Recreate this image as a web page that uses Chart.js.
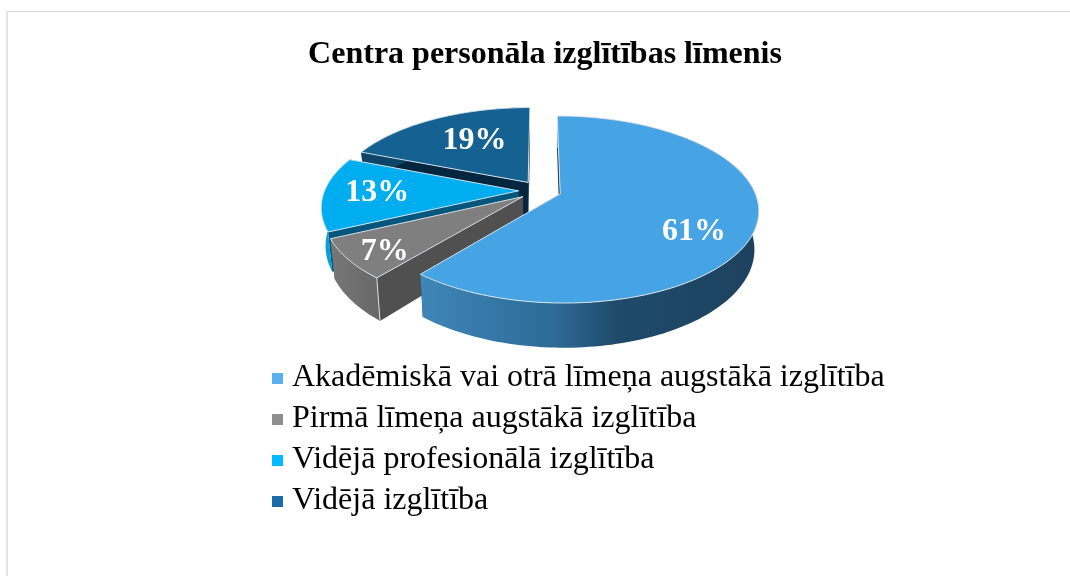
<!DOCTYPE html>
<html>
<head>
<meta charset="utf-8">
<style>
html,body{margin:0;padding:0;background:#fff;width:1070px;height:576px;overflow:hidden}
#wrap{position:absolute;left:0;top:0;width:1070px;height:576px;overflow:hidden}
canvas{position:absolute;left:0;top:0}
#ft{position:absolute;left:8px;right:0;top:11px;height:1px;background:#d9d9d9}
#fl{position:absolute;left:6px;width:2px;top:11px;bottom:0;background:#e4e4e4}
</style>
</head>
<body>
<div id="wrap">
<canvas id="c" width="1090" height="576"></canvas>
<div id="ft"></div><div id="fl"></div>
</div>
<script src="https://cdn.jsdelivr.net/npm/chart.js@4/dist/chart.umd.min.js"></script>
<script>
const titleText = 'Centra personāla izglītības līmenis';
const categories = ['Akadēmiskā vai otrā līmeņa augstākā izglītība','Pirmā līmeņa augstākā izglītība','Vidējā profesionālā izglītība','Vidējā izglītība'];
const values = [61, 7, 13, 19];
const topColors = ['#47a4e4','#7f7f7f','#00aeef','#156191'];
const legendColors = ['#58b0ee','#8f8f8f','#00b9ff','#1b6ca6'];
const radialColors = ['#1d4560','#505050','#00567c','#05263f'];
const wallStops = [
  [[0,'#3f86b8'],[0.4,'#2d6a96'],[0.58,'#1f4a6a'],[1,'#1d425f']],
  [[0,'#787878'],[1,'#686868']],
  [[0,'#0a9ed8'],[1,'#0a9ed8']],
  [[0,'#0d4468'],[1,'#0d4468']]
];
const labelNudge = [[-1,15],[-20,12.5],[-5,0],[14,4]];
const labelRadius = [0.7,0.7,0.7,0.7];

const view = {cx:540, cy:190.5, rx:194, ry:89.8, k:0.166, explode:0.11, depth:37, taper:0.98};
function project(u,v){
  const w = 1 + view.k*v;
  return [view.cx + view.rx*u/w, view.cy - view.ry*v/w, w];
}
function drop(p){
  return [view.cx + (p[0]-view.cx)*view.taper, p[1] + view.depth/p[2]];
}
function sliceOutline(el){
  const a0 = el.startAngle, a1 = el.endAngle, mid=(a0+a1)/2;
  const ou = view.explode*Math.cos(mid), ov = -view.explode*Math.sin(mid);
  const apex = project(ou,ov), arc=[];
  const n = Math.max(8,Math.round((a1-a0)*40));
  for(let i=0;i<=n;i++){
    const a = a0+(a1-a0)*i/n;
    arc.push(project(ou+Math.cos(a), ov-Math.sin(a)));
  }
  return {apex,arc,ou,ov,mid};
}
function poly(ctx,pts,fill,stroke){
  ctx.beginPath();
  pts.forEach((p,i)=> i?ctx.lineTo(p[0],p[1]):ctx.moveTo(p[0],p[1]));
  ctx.closePath();
  if(fill){ctx.fillStyle=fill;ctx.fill();}
  if(stroke){ctx.strokeStyle=stroke;ctx.lineWidth=1;ctx.stroke();}
}
function legendSwatch(color){
  const c=document.createElement('canvas');
  c.width=16;c.height=11;
  const x=c.getContext('2d');
  x.fillStyle=color;x.fillRect(5,0,11,11);
  return c;
}
const edge='rgba(228,234,240,0.9)';
const pie3d = {
  id:'pie3d',
  beforeDatasetDraw(chart){
    const ctx = chart.ctx, els = chart.getDatasetMeta(0).data;
    ctx.save();
    ctx.lineJoin='round';
    const order=[3,2,1,0];
    order.forEach(i=>{
      const s = sliceOutline(els[i]);
      const first=s.arc[0], last=s.arc[s.arc.length-1];
      poly(ctx,[s.apex,last,drop(last),drop(s.apex)],radialColors[i]);
      poly(ctx,[s.apex,first,drop(first),drop(s.apex)],radialColors[i]);
      const xs=s.arc.map(p=>p[0]);
      const g=ctx.createLinearGradient(Math.min(...xs),0,Math.max(...xs),0);
      wallStops[i].forEach(st=>g.addColorStop(st[0],st[1]));
      const wall=s.arc.concat(s.arc.map(drop).reverse());
      poly(ctx,wall,g);
      if(i===1||i===0){
        ctx.strokeStyle=edge;ctx.lineWidth=1;
        const d=drop(first);
        ctx.beginPath();ctx.moveTo(first[0],first[1]);ctx.lineTo(d[0],d[1]);ctx.stroke();
      }
      poly(ctx,[s.apex].concat(s.arc),topColors[i],edge);
    });
    ctx.fillStyle='#fff';
    ctx.font='bold 32px "Liberation Serif"';
    ctx.textAlign='center';ctx.textBaseline='middle';
    els.forEach((el,i)=>{
      const s=sliceOutline(el), r=labelRadius[i];
      const p=project(s.ou+r*Math.cos(s.mid), s.ov-r*Math.sin(s.mid));
      ctx.fillText(values[i]+'%',p[0]+labelNudge[i][0],p[1]+labelNudge[i][1]);
    });
    ctx.restore();
    return false;
  },
  afterLayout(chart){
    const l=chart.legend;
    const w=l.width,h=l.height;
    l.left=265; l.right=265+w; l.top=353; l.bottom=353+h;
  }
};
new Chart(document.getElementById('c'),{
  type:'pie',
  data:{labels:categories,datasets:[{data:values,backgroundColor:topColors,borderWidth:0}]},
  plugins:[pie3d],
  options:{
    responsive:false,animation:false,
    plugins:{
      tooltip:{enabled:false},
      title:{display:true,text:titleText,color:'#000',font:{family:'"Liberation Serif"',size:32,weight:'bold'},padding:{top:36,bottom:10}},
      legend:{display:true,position:'left',align:'start',maxWidth:800,
        labels:{
          usePointStyle:true,boxWidth:2,boxHeight:11,padding:9,color:'#000',
          font:{family:'"Liberation Serif"',size:32},
          generateLabels(chart){
            return categories.map((t,i)=>({text:t,fillStyle:legendColors[i],strokeStyle:legendColors[i],lineWidth:0,pointStyle:legendSwatch(legendColors[i]),index:i,hidden:false}));
          }
        }
      }
    }
  }
});
</script>
</body>
</html>
